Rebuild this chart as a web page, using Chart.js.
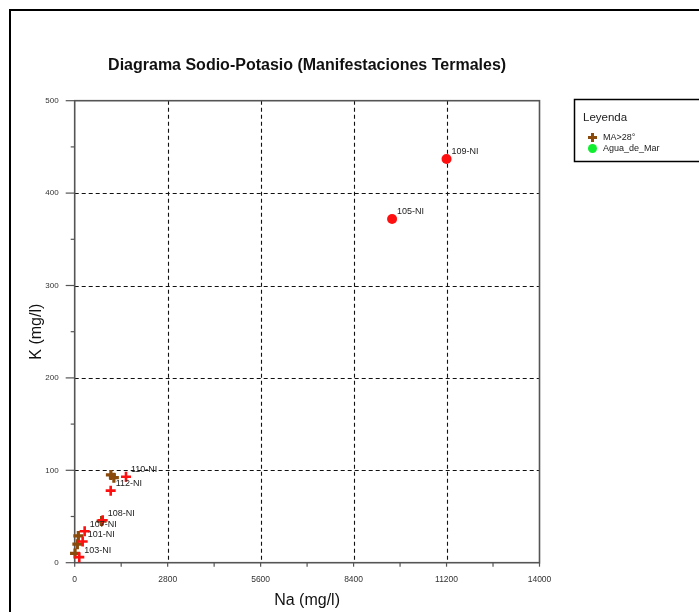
<!DOCTYPE html>
<html>
<head>
<meta charset="utf-8">
<title>Diagrama Sodio-Potasio</title>
<script src="https://cdn.jsdelivr.net/npm/chart.js@4.4.1/dist/chart.umd.min.js"></script>
<style>
  html, body { margin: 0; padding: 0; background: #ffffff; }
  #wrap { width: 699px; height: 612px; position: relative; }
  canvas { display: block; }
</style>
</head>
<body>
<div id="wrap"><canvas id="chart" width="699" height="612"></canvas></div>
<script>
// Thermal springs, low-range samples (Na, K in mg/l)
const springNames = ['103-NI', '101-NI', '107-NI', '108-NI', '112-NI', '110-NI'];
const springNa    = [138, 240, 300, 843, 1084, 1545];
const springK     = [6, 23, 34, 46, 78, 93];

// Thermal springs, high-salinity samples
const salineNames = ['105-NI', '109-NI'];
const salineNa    = [9560, 11200];
const salineK     = [372, 437];

// Group MA>28°
const ma28Na = [10, 80, 110, 810, 1090, 1180];
const ma28K  = [10, 20, 29, 45, 95, 92];

// Sea water reference (legend entry)
const marNa = [];
const marK  = [];

// Axis tick labels
const naTicks = [0, 2800, 5600, 8400, 11200, 14000];
const kTicks  = [0, 100, 200, 300, 400, 500];

const FONT = "'Liberation Sans', Arial, sans-serif";
const RED = '#ff1010';
const BROWN = '#8a4a0c';
const GREEN = '#10ee30';

const toPoints = (xs, ys) => xs.map((x, i) => ({ x: x, y: ys[i] }));

// Frame, title, axis titles, dashed grid, axis box, tick marks, labels and legend
const decor = {
  id: 'decor',
  beforeDraw(chart) {
    const ctx = chart.ctx;
    const a = chart.chartArea;
    ctx.save();
    ctx.fillStyle = '#ffffff';
    ctx.fillRect(0, 0, chart.width, chart.height);
    // outer frame
    ctx.strokeStyle = '#000000';
    ctx.lineWidth = 2;
    ctx.beginPath();
    ctx.moveTo(10, chart.height + 2);
    ctx.lineTo(10, 10);
    ctx.lineTo(chart.width + 2, 10);
    ctx.stroke();
    // title
    ctx.fillStyle = '#111111';
    ctx.font = 'bold 16px ' + FONT;
    ctx.textAlign = 'center';
    ctx.textBaseline = 'alphabetic';
    ctx.fillText('Diagrama Sodio-Potasio (Manifestaciones Termales)', (a.left + a.right) / 2, 69.5);
    // axis titles
    ctx.font = '16px ' + FONT;
    ctx.fillText('Na (mg/l)', (a.left + a.right) / 2, 605);
    ctx.save();
    ctx.translate(40.5, (a.top + a.bottom) / 2);
    ctx.rotate(-Math.PI / 2);
    ctx.fillText('K (mg/l)', 0, 0);
    ctx.restore();
    ctx.restore();
  },
  beforeDatasetsDraw(chart) {
    const ctx = chart.ctx;
    const a = chart.chartArea;
    const xs = chart.scales.x, ys = chart.scales.y;
    ctx.save();
    // dashed grid at labelled ticks
    ctx.strokeStyle = '#111111';
    ctx.lineWidth = 1.1;
    ctx.setLineDash([4, 3]);
    naTicks.forEach(v => {
      if (v <= xs.min || v >= xs.max) return;
      const px = Math.round(xs.getPixelForValue(v)) + 0.5;
      ctx.beginPath(); ctx.moveTo(px, a.top); ctx.lineTo(px, a.bottom); ctx.stroke();
    });
    kTicks.forEach(v => {
      if (v <= ys.min || v >= ys.max) return;
      const py = Math.round(ys.getPixelForValue(v)) + 0.5;
      ctx.beginPath(); ctx.moveTo(a.left, py); ctx.lineTo(a.right, py); ctx.stroke();
    });
    ctx.setLineDash([]);
    // plot box
    ctx.strokeStyle = '#555555';
    ctx.lineWidth = 1.6;
    ctx.strokeRect(a.left, a.top, a.right - a.left, a.bottom - a.top);
    // tick marks (major where labelled, minor in between)
    ctx.lineWidth = 1.2;
    ys.ticks.forEach(t => {
      const py = ys.getPixelForValue(t.value);
      const len = kTicks.includes(t.value) ? 9 : 4;
      ctx.beginPath(); ctx.moveTo(a.left - len, py); ctx.lineTo(a.left, py); ctx.stroke();
    });
    xs.ticks.forEach(t => {
      const px = xs.getPixelForValue(t.value);
      ctx.beginPath(); ctx.moveTo(px, a.bottom); ctx.lineTo(px, a.bottom + 4); ctx.stroke();
    });
    ctx.restore();
  },
  afterDatasetsDraw(chart) {
    const ctx = chart.ctx;
    const xs = chart.scales.x, ys = chart.scales.y;
    ctx.save();
    ctx.fillStyle = '#222222';
    ctx.font = '9px ' + FONT;
    ctx.textAlign = 'left';
    ctx.textBaseline = 'middle';
    const put = (names, nas, ks) => names.forEach((n, i) => {
      ctx.fillText(n, xs.getPixelForValue(nas[i]) + 5, ys.getPixelForValue(ks[i]) - 7);
    });
    put(springNames, springNa, springK);
    put(salineNames, salineNa, salineK);
    ctx.restore();
  },
  afterDraw(chart) {
    // legend box
    const ctx = chart.ctx;
    ctx.save();
    ctx.strokeStyle = '#000000';
    ctx.lineWidth = 1.5;
    ctx.strokeRect(574.5, 99.5, 140, 62);
    ctx.fillStyle = '#222222';
    ctx.textAlign = 'left';
    ctx.textBaseline = 'middle';
    ctx.font = '11.5px ' + FONT;
    ctx.fillText('Leyenda', 583, 118);
    const items = chart.data.datasets.filter(d => d.inLegend);
    items.forEach((d, i) => {
      const y = 137.5 + i * 11;
      ctx.fillStyle = d.backgroundColor;
      ctx.strokeStyle = d.borderColor;
      ctx.lineWidth = d.legendBorder;
      Chart.helpers.drawPoint(ctx, {
        pointStyle: d.pointStyle,
        radius: d.legendRadius,
        borderWidth: d.legendBorder,
        rotation: 0
      }, 592.5, y);
      ctx.fillStyle = '#222222';
      ctx.font = '9px ' + FONT;
      ctx.fillText(d.label, 603, y);
    });
    ctx.restore();
  }
};

const chart = new Chart(document.getElementById('chart'), {
  type: 'scatter',
  data: {
    datasets: [
      {
        label: 'Manifestaciones',
        data: toPoints(springNa, springK),
        pointStyle: 'cross',
        pointRadius: 5,
        pointBorderWidth: 2.6,
        borderColor: RED,
        backgroundColor: RED,
        clip: false,
        order: 1
      },
      {
        label: 'Manifestaciones salinas',
        data: toPoints(salineNa, salineK),
        pointStyle: 'circle',
        pointRadius: 5,
        pointBorderWidth: 0,
        borderColor: RED,
        backgroundColor: RED,
        clip: false,
        order: 1
      },
      {
        label: 'MA>28°',
        inLegend: true,
        legendRadius: 4.5,
        legendBorder: 3,
        data: toPoints(ma28Na, ma28K),
        pointStyle: 'cross',
        pointRadius: 5,
        pointBorderWidth: 3.2,
        borderColor: BROWN,
        backgroundColor: BROWN,
        clip: false,
        order: 2
      },
      {
        label: 'Agua_de_Mar',
        inLegend: true,
        legendRadius: 4.5,
        legendBorder: 0,
        data: toPoints(marNa, marK),
        pointStyle: 'circle',
        pointRadius: 5,
        pointBorderWidth: 0,
        borderColor: GREEN,
        backgroundColor: GREEN,
        clip: false,
        order: 3
      }
    ]
  },
  options: {
    responsive: false,
    animation: false,
    devicePixelRatio: 1,
    layout: { padding: { left: 10, top: 100.7, right: 159.5, bottom: 0 } },
    plugins: {
      legend: { display: false },
      title: { display: false },
      tooltip: { enabled: false }
    },
    scales: {
      x: {
        type: 'linear',
        min: 0, max: 14000,
        grid: { display: false, drawTicks: false },
        border: { display: false },
        ticks: {
          stepSize: 1400,
          autoSkip: false,
          maxRotation: 0,
          padding: 12,
          color: '#333333',
          font: { family: FONT, size: 8.5 },
          callback: v => naTicks.includes(v) ? String(v) : ''
        },
        afterFit: s => { s.height = 49.3; }
      },
      y: {
        type: 'linear',
        min: 0, max: 500,
        grid: { display: false, drawTicks: false },
        border: { display: false },
        ticks: {
          stepSize: 50,
          autoSkip: false,
          padding: 16,
          color: '#333333',
          font: { family: FONT, size: 8 },
          callback: v => kTicks.includes(v) ? String(v) : ''
        },
        afterFit: s => { s.width = 64.7; }
      }
    }
  },
  plugins: [decor]
});
</script>
</body>
</html>
